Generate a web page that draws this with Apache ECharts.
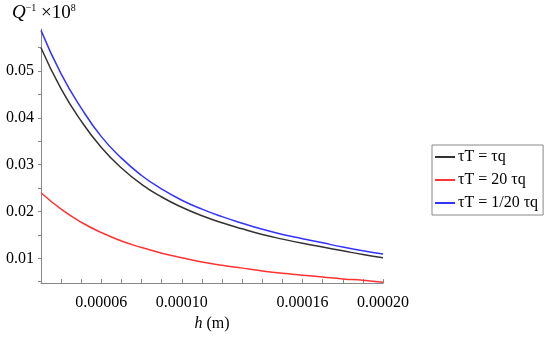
<!DOCTYPE html>
<html><head><meta charset="utf-8">
<script src="https://cdn.jsdelivr.net/npm/echarts@6/dist/echarts.min.js"></script>
<style>html,body{margin:0;padding:0;background:#fff}#c{width:550px;height:337px}</style>
</head><body><div id="c"></div>
<script>
// h values (m)
const hValues = [0.00003,0.00004,0.00005,0.00006,0.00007,0.00008,0.00009,0.0001,0.00011,0.00012,0.00013,0.00014,0.00015,0.00016,0.00017,0.00018,0.00019,0.0002];
const seriesNames = ['τT = τq','τT = 20 τq','τT = 1/20 τq'];
const equalVals = [0.0550,0.0462,0.0393,0.0337,0.0293,0.0258,0.0231,0.0209,0.0191,0.0176,0.0163,0.0151,0.0141,0.0132,0.0124,0.0116,0.0108,0.0101];
const twentyVals = [0.0240,0.0205,0.0177,0.0155,0.0137,0.0123,0.0111,0.0101,0.0092,0.0085,0.0079,0.0073,0.0068,0.0064,0.0060,0.0056,0.0053,0.0049];
const twentiethVals = [0.0587,0.0494,0.0421,0.0360,0.0314,0.0277,0.0248,0.0224,0.0205,0.0189,0.0175,0.0162,0.0151,0.0142,0.0133,0.0124,0.0116,0.0109];
const xTickLabels = [0.00006,0.0001,0.00016,0.0002];
const xTicks = [0.00003,0.00004,0.00005,0.00006,0.00007,0.00008,0.00009,0.0001,0.00011,0.00012,0.00013,0.00014,0.00015,0.00016,0.00017,0.00018,0.00019,0.0002];
const yTickLabels = [0.01,0.02,0.03,0.04,0.05];
const yTicks = [0.005,0.01,0.015,0.02,0.025,0.03,0.035,0.04,0.045,0.05,0.055];
const colors = ['#333333','#ff3333','#3333ff'];

const font = 'Liberation Serif';
const pair = vals => hValues.map((h,i)=>[h, vals[i]]);
const chart = echarts.init(document.getElementById('c'));
chart.setOption({
  animation:false,
  textStyle:{fontFamily:font},
  grid:{left:41,right:167,top:29,bottom:50},
  xAxis:{type:'value',min:0.00003,max:0.0002,
    axisLine:{lineStyle:{color:'#888'}},
    axisTick:{inside:true,length:4,lineStyle:{color:'#888'},customValues:xTicks},
    axisLabel:{customValues:xTickLabels,formatter:v=>v.toFixed(5),color:'#000',fontSize:16,fontFamily:font,margin:12},
    splitLine:{show:false},
    name:'{i|h} (m)',nameLocation:'middle',nameGap:31,
    nameTextStyle:{color:'#000',fontSize:16,fontFamily:font,rich:{i:{fontStyle:'italic',fontSize:16,fontFamily:font,color:'#000'}}}
  },
  yAxis:{type:'value',min:0.0047,max:0.059,
    axisLine:{show:true,lineStyle:{color:'#888'}},
    axisTick:{show:true,length:3,lineStyle:{color:'#888'},customValues:yTicks},
    axisLabel:{customValues:yTickLabels,formatter:v=>v.toFixed(2),color:'#000',fontSize:16,fontFamily:font,margin:7},
    splitLine:{show:false}
  },
  legend:{orient:'vertical',left:432,top:145,padding:[4,5,4,3],itemGap:7,
    borderColor:'#888',borderWidth:1,itemWidth:20,itemHeight:2,icon:'rect',
    textStyle:{fontSize:16,fontFamily:font,color:'#000',padding:[0,0,0,-2]},
    data:seriesNames},
  graphic:[{type:'text',left:12,top:3,style:{
    text:'{q|Q}{s|−1}{t| ×10}{s|8}',
    rich:{q:{fontStyle:'italic',fontSize:19,fontFamily:font,fill:'#000'},
          s:{fontSize:10,fontFamily:font,fill:'#000',verticalAlign:'top',padding:[0,0,10,0]},
          t:{fontSize:19,fontFamily:font,fill:'#000'}}}}],
  series:[
    {name:seriesNames[0],type:'line',smooth:true,symbol:'none',data:pair(equalVals),lineStyle:{color:colors[0],width:1.5},itemStyle:{color:colors[0]}},
    {name:seriesNames[1],type:'line',smooth:true,symbol:'none',data:pair(twentyVals),lineStyle:{color:colors[1],width:1.5},itemStyle:{color:colors[1]}},
    {name:seriesNames[2],type:'line',smooth:true,symbol:'none',data:pair(twentiethVals),lineStyle:{color:colors[2],width:1.5},itemStyle:{color:colors[2]}}
  ]
});
</script></body></html>
